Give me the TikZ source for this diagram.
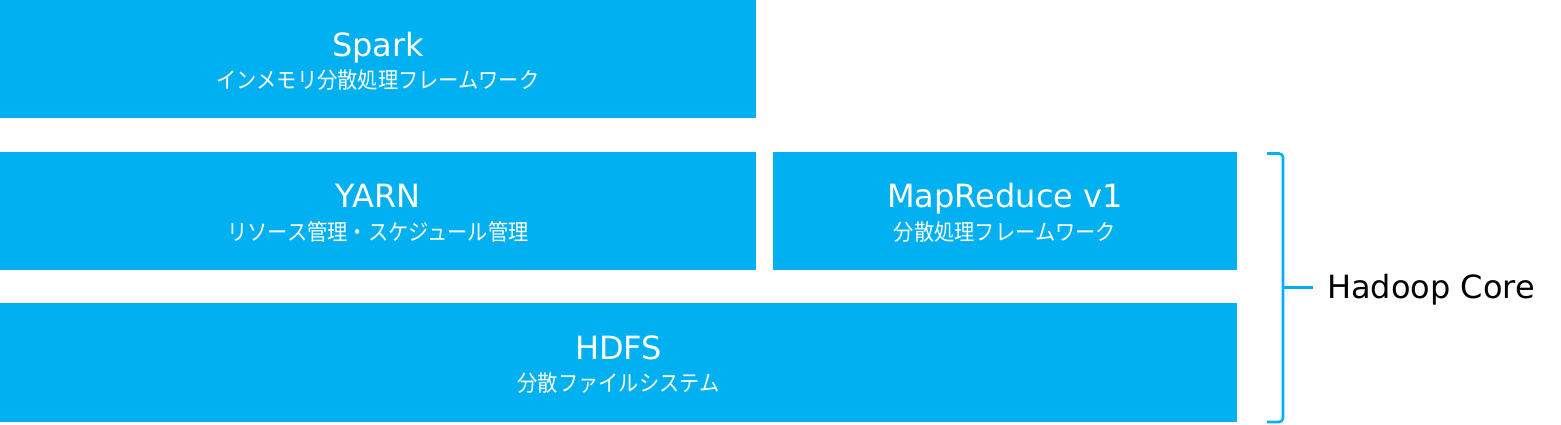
\documentclass[tikz,border=0pt]{standalone}
\usepackage{fontspec}
\setmainfont{DejaVu Sans}
\newfontfamily\jp[FakeStretch=0.9]{Noto Sans CJK JP}
\usetikzlibrary{calc}
\definecolor{hblue}{HTML}{00B0F0}
\tikzset{
  layerbox/.style={fill=hblue, draw=none, inner sep=0pt, outer sep=0pt},
  titletext/.style={text=white, inner sep=0pt, anchor=base, font=\fontsize{32}{38}\selectfont},
  subtext/.style={text=white, inner sep=0pt, anchor=base, font=\jp\fontsize{22.5}{26}\selectfont},
  bracestyle/.style={draw=hblue, line width=2.6pt, rounded corners=4pt},
  coretext/.style={text=black, inner sep=0pt, anchor=base west, font=\fontsize{32}{38}\selectfont}
}
\begin{document}
\begin{tikzpicture}[x=1pt,y=-1pt]
\useasboundingbox (0,0) rectangle (1561,424);
% boxes
\node[layerbox, minimum width=756pt, minimum height=118pt] (spark) at (378,59) {};
\node[layerbox, minimum width=756pt, minimum height=118pt] (yarn) at (378,211) {};
\node[layerbox, minimum width=464pt, minimum height=118pt] (mr) at (1005,211) {};
\node[layerbox, minimum width=1237pt, minimum height=119pt] (hdfs) at (618.5,362.5) {};
% texts
\node[titletext] (sparkT) at ($(spark.center)+(0,-3)$) {Spark};
\node[subtext] (sparkS) at ($(spark.center)+(0,29)$) {インメモリ分散処理フレームワーク};
\node[titletext] (yarnT) at ($(yarn.center)+(0,-4)$) {YARN};
\node[subtext] (yarnS) at ($(yarn.center)+(0,29)$) {リソース管理・スケジュール管理};
\node[titletext] (mrT) at ($(mr.center)+(0,-4)$) {MapReduce v1};
\node[subtext] (mrS) at ($(mr.center)+(0,29)$) {分散処理フレームワーク};
\node[titletext] (hdfsT) at ($(hdfs.center)+(0,-3)$) {HDFS};
\node[subtext] (hdfsS) at ($(hdfs.center)+(0,29)$) {分散ファイルシステム};
% brace
\coordinate (btop) at (1267,153.5);
\coordinate (bbot) at (1267,422);
\coordinate (btip) at (1283,287.5);
\coordinate (bend) at (1313,287.5);
\draw[bracestyle] (btop) -- (1283,153.5) -- (btip) -- (1283,422) -- (bbot);
\draw[draw=hblue, line width=2.6pt] (btip) -- (bend);
\node[coretext] (core) at (1327,298) {Hadoop Core};
\end{tikzpicture}
\end{document}
